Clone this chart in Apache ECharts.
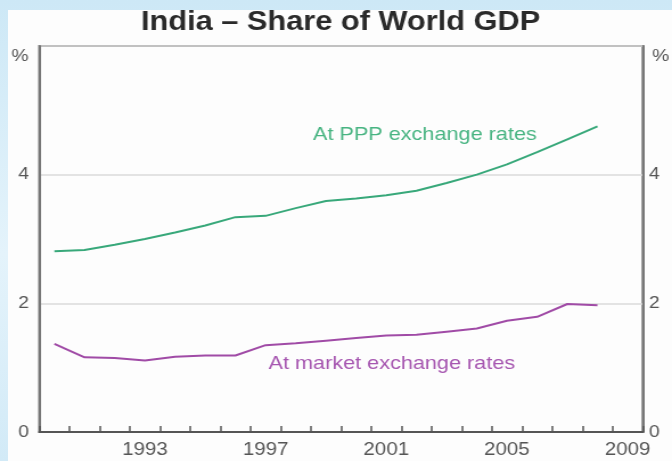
<!DOCTYPE html>
<html>
<head>
<meta charset="utf-8">
<script src="https://cdn.jsdelivr.net/npm/echarts@6/dist/echarts.min.js"></script>
<style>
  html, body { margin: 0; padding: 0; width: 672px; height: 461px; overflow: hidden; }
  body { position: relative; background: linear-gradient(180deg, #cde8f6 0%, #e4f3fb 55%, #d2eaf7 100%); }
  #paper { position: absolute; left: 8px; top: 10px; right: 0; bottom: 0; background: #fdfdfd; }
  /* the source picture is stretched sideways a little, so the chart is too */
  #chart { position: absolute; left: 0; top: 0; width: 590px; height: 461px; transform: scaleX(1.139); transform-origin: 0 0; }
</style>
</head>
<body>
<div id="paper"></div>
<div id="chart"></div>
<script>
const years = ['1990', '1991', '1992', '1993', '1994', '1995', '1996', '1997', '1998', '1999',
  '2000', '2001', '2002', '2003', '2004', '2005', '2006', '2007', '2008', '2009'];
// share of world GDP, %
const pppShare = [2.81, 2.83, 2.91, 3.00, 3.10, 3.21, 3.34, 3.36, 3.48, 3.59,
  3.63, 3.68, 3.75, 3.87, 4.00, 4.16, 4.35, 4.55, 4.75];
const marketShare = [1.37, 1.16, 1.15, 1.11, 1.17, 1.19, 1.19, 1.35, 1.38, 1.42,
  1.46, 1.50, 1.51, 1.56, 1.61, 1.73, 1.79, 1.99, 1.97];

const font = '"Liberation Sans", Arial, sans-serif';
const green = '#38a87a';
const purple = '#a04ba6';

const chart = echarts.init(document.getElementById('chart'));
chart.setOption({
  animation: false,
  grid: {
    left: 34.5,
    right: 25.7,
    top: 46,
    bottom: 29,
    show: true,
    borderColor: '#777',
    borderWidth: 2,
  },
  xAxis: {
    type: 'category',
    data: years,
    boundaryGap: true,
    axisLine: { lineStyle: { color: '#555', width: 2 } },
    axisTick: { show: true, inside: true, length: 6, interval: 0, lineStyle: { color: '#555', width: 1.5 } },
    axisLabel: {
      interval: (i) => i % 4 === 3,
      margin: 9,
      fontFamily: font,
      fontSize: 18,
      color: '#555',
    },
  },
  yAxis: [
    {
      type: 'value',
      min: 0,
      max: 6,
      interval: 2,
      axisLine: { show: true, lineStyle: { color: '#777', width: 2 } },
      axisTick: { show: false },
      axisLabel: { showMaxLabel: false, margin: 9, fontFamily: font, fontSize: 17, color: '#555' },
      splitLine: { lineStyle: { color: '#dadada', width: 1.5 } },
    },
    {
      type: 'value',
      position: 'right',
      min: 0,
      max: 6,
      interval: 2,
      axisLine: { show: true, lineStyle: { color: '#777', width: 2 } },
      axisTick: { show: false },
      axisLabel: { showMaxLabel: false, margin: 5.5, fontFamily: font, fontSize: 17, color: '#555' },
      splitLine: { show: false },
    },
  ],
  series: [
    {
      name: 'At PPP exchange rates',
      type: 'line',
      data: pppShare,
      symbol: 'none',
      lineStyle: { color: green, width: 2 },
    },
    {
      name: 'At market exchange rates',
      type: 'line',
      data: marketShare,
      symbol: 'none',
      lineStyle: { color: purple, width: 2 },
    },
  ],
  graphic: [
    {
      type: 'text', x: 299, y: 23,
      style: { text: 'India – Share of World GDP', font: 'bold 27px ' + font, fill: '#2a2a2a', textAlign: 'center', textVerticalAlign: 'middle' },
    },
    {
      type: 'text', x: 373, y: 135,
      style: { text: 'At PPP exchange rates', font: '19px ' + font, fill: '#48b482', textAlign: 'center', textVerticalAlign: 'middle' },
    },
    {
      type: 'text', x: 344, y: 364,
      style: { text: 'At market exchange rates', font: '19px ' + font, fill: '#a656b0', textAlign: 'center', textVerticalAlign: 'middle' },
    },
    {
      type: 'text', x: 17.6, y: 56,
      style: { text: '%', font: '17px ' + font, fill: '#555', textAlign: 'center', textVerticalAlign: 'middle' },
    },
    {
      type: 'text', x: 580, y: 56,
      style: { text: '%', font: '17px ' + font, fill: '#555', textAlign: 'center', textVerticalAlign: 'middle' },
    },
  ],
});
</script>
</body>
</html>
